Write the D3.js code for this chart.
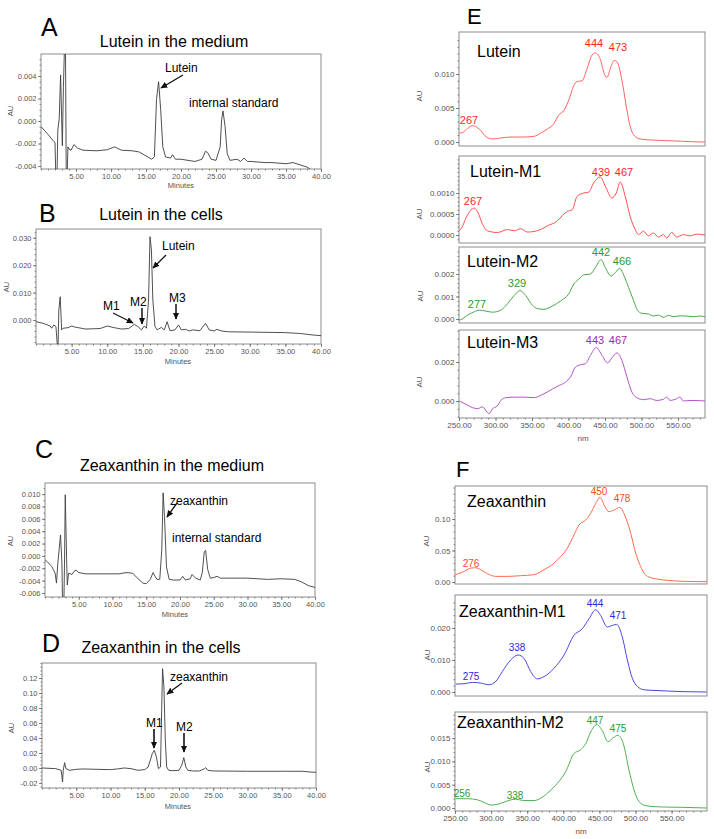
<!DOCTYPE html>
<html><head><meta charset="utf-8">
<script src="https://cdn.jsdelivr.net/npm/d3@7"></script>
<style>body{margin:0;background:#fff}svg text{font-family:"Liberation Sans",Arial,sans-serif}</style>
</head><body>
<svg id="c" width="714" height="839" xmlns="http://www.w3.org/2000/svg"></svg>
<script>
// ---------------- DATA ----------------
// Chromatograms: [minutes, AU]
const chromA = [[0,-0.0005],[1,-0.0012],[1.8,-0.0018],[2.0,-0.0019],[2.1,-0.0045],[2.3,-0.0045],[2.4,-0.0008],[2.6,0.0002],[2.8,0.0041],[2.95,0.0002],[3.05,-0.0022],[3.2,0.003],[3.35,0.0065],[3.5,0.0065],[3.6,-0.0045],[3.75,-0.0045],[3.85,-0.0023],[4.0,-0.0025],[4.3,-0.0026],[4.7,-0.0021],[5.2,-0.0024],[6,-0.0026],[8,-0.00265],[9.5,-0.00255],[10.5,-0.0023],[11.5,-0.0026],[13,-0.00265],[14,-0.00275],[15,-0.0031],[15.8,-0.0034],[16.2,-0.0032],[16.5,0.0019],[16.8,0.0035],[17.1,0.0010],[17.4,-0.0023],[17.8,-0.0032],[18.5,-0.0033],[18.8,-0.0030],[19.2,-0.0034],[20,-0.0034],[21,-0.0035],[22,-0.0036],[23,-0.0034],[23.5,-0.0027],[23.8,-0.0028],[24.3,-0.0034],[25,-0.0035],[25.6,-0.0023],[25.8,0.0001],[26.0,0.0009],[26.3,-0.0005],[26.6,-0.0029],[27,-0.0035],[28,-0.0034],[28.5,-0.0036],[29,-0.0033],[29.5,-0.0036],[30,-0.0036],[32,-0.0037],[33,-0.0037],[35,-0.0038],[36,-0.0037],[37,-0.0039],[38,-0.0041],[38.5,-0.0043]];
const chromB = [[0,-0.0006],[1,-0.0012],[2,-0.0022],[2.2,-0.0030],[2.5,-0.0018],[2.8,-0.0024],[3.0,-0.0095],[3.1,-0.0095],[3.2,0.0036],[3.4,0.0085],[3.6,-0.0036],[3.8,-0.0030],[4.5,-0.0028],[5,-0.0022],[5.5,-0.0026],[7,-0.0033],[9,-0.0031],[10,-0.0022],[11,-0.0028],[12,-0.0033],[13,-0.0031],[13.8,-0.0016],[14.3,-0.0024],[14.8,-0.0036],[15.2,-0.0022],[15.5,-0.0030],[15.8,0.0073],[16.0,0.0304],[16.2,0.0255],[16.4,0.0073],[16.7,-0.0024],[17,-0.0036],[17.6,-0.0027],[18,-0.0036],[18.4,-0.0006],[18.8,-0.0039],[19.5,-0.0036],[20,-0.0018],[20.4,-0.0036],[21,-0.0034],[21.5,-0.0040],[22,-0.0036],[23,-0.0039],[23.8,-0.0012],[24.3,-0.0036],[25,-0.0040],[25.4,-0.0034],[26,-0.0040],[27,-0.0043],[30,-0.0044],[35,-0.0046],[37,-0.0049],[38,-0.0052],[39,-0.0055],[40,-0.0057]];
const chromC = [[0,-0.0006],[1,-0.0017],[1.5,-0.0028],[1.7,-0.0044],[1.9,-0.0012],[2.3,0.0034],[2.5,-0.0010],[2.6,-0.0075],[2.8,-0.0075],[2.9,-0.0005],[3.0,0.0099],[3.2,-0.0004],[3.3,-0.0047],[3.5,-0.0028],[4.0,-0.0030],[4.3,-0.0025],[4.6,-0.0023],[5,-0.0027],[6,-0.0029],[8,-0.0029],[11,-0.0029],[12,-0.0027],[13,-0.0028],[13.5,-0.0034],[14.5,-0.0044],[15,-0.0045],[15.6,-0.0038],[16.0,-0.0027],[16.3,-0.0033],[16.6,-0.0038],[17.0,-0.0038],[17.3,0.0010],[17.5,0.0102],[17.7,0.0064],[18.0,-0.0018],[18.4,-0.0038],[19,-0.0039],[20,-0.0039],[20.4,-0.0033],[20.8,-0.0039],[21.5,-0.0037],[21.8,-0.0030],[22.3,-0.0036],[23,-0.0039],[23.3,-0.0027],[23.6,0.0007],[23.8,0.0009],[24.1,-0.0022],[24.5,-0.0036],[25,-0.0035],[25.5,-0.0033],[26,-0.0036],[27,-0.0036],[30,-0.0036],[33,-0.0038],[35,-0.0037],[37,-0.0038],[38,-0.0042],[39,-0.0048],[40,-0.0051]];
const chromD = [[0,0.0],[2,-0.0009],[2.8,-0.0031],[3.0,-0.0187],[3.1,-0.0031],[3.3,0.0071],[3.5,-0.0009],[4,-0.0031],[5,-0.0018],[6,-0.0013],[8,-0.0018],[10,-0.0022],[11,-0.0013],[12,0.0],[13,-0.0009],[14,-0.0031],[15,-0.0022],[15.5,0.0013],[16.1,0.0191],[16.4,0.0236],[16.7,0.0147],[17.0,-0.0009],[17.3,0.0013],[17.5,0.0902],[17.6,0.1324],[17.8,0.108],[18,0.037],[18.2,0.0013],[18.5,-0.0031],[19,-0.0036],[20,-0.0031],[20.4,0.0036],[20.7,0.0138],[21,0.0013],[21.3,-0.0031],[22,-0.0040],[23,-0.0040],[23.7,-0.0009],[23.9,0.0004],[24.2,-0.0031],[25,-0.0040],[30,-0.0044],[35,-0.0044],[38,-0.0044],[39,-0.0053],[40,-0.0058]];

// Spectra: [nm, AU]
const specLutein = [[250,0.0013],[255,0.0014],[261.8,0.0020],[268.6,0.0024],[277.7,0.0019],[286.8,0.0008],[295.9,0.00044],[307.3,0.00059],[320.9,0.00073],[339,0.00073],[352.7,0.00083],[361.8,0.0013],[370.9,0.0019],[380,0.0027],[386.8,0.0040],[393.6,0.0046],[400.5,0.0062],[407.3,0.0083],[411.8,0.0089],[418.6,0.0090],[425.5,0.0108],[432.3,0.0128],[436.8,0.0131],[442.7,0.0124],[450.5,0.0097],[452.7,0.0095],[458.2,0.0111],[462.7,0.0120],[466.4,0.0118],[473.2,0.0091],[480,0.0047],[484.5,0.0023],[489,0.0011],[498,0.00044],[511.8,0.0003],[534.5,0.0002],[557.3,0.0001],[582.3,0.0],[587,0.0]];
const specLuteinM1 = [[250,0.0001],[253.6,0.00017],[259.5,0.0004],[266.4,0.0006],[270.9,0.00064],[276.4,0.00052],[282.3,0.00025],[289,0.0001],[302.7,0.00006],[316.4,0.00013],[325.5,0.0001],[334.5,0.00015],[343.6,0.00007],[361.8,0.00013],[370.9,0.00022],[384.5,0.00033],[392,0.00047],[398.2,0.00056],[405,0.0006],[411.8,0.00092],[420.9,0.0010],[427.7,0.00102],[434.5,0.00124],[443.6,0.00138],[450.5,0.00116],[459.5,0.00088],[465.5,0.0010],[470.9,0.00126],[477.7,0.00092],[484.5,0.00044],[491.4,0.00013],[495.9,0.00001],[502.7,0.00009],[509.5,-0.00002],[516.4,0.00005],[523.2,-0.00005],[530,0.00001],[534.5,-0.00007],[541.4,0.00006],[548.2,-0.00005],[557.3,0.00001],[566.4,-0.00002],[575.5,0.00002],[587,0.0]];
const specLuteinM2 = [[250,-0.00005],[251.8,-0.00004],[261.8,0.00017],[270.9,0.00032],[277.7,0.00039],[286.8,0.00035],[295.9,0.0003],[307.3,0.00039],[316.4,0.00068],[325.5,0.00104],[333.6,0.00126],[341.4,0.00104],[350.5,0.00061],[357.3,0.00046],[366.4,0.00043],[377.7,0.00057],[389.1,0.0008],[400.5,0.00112],[407.3,0.00155],[414.1,0.00177],[420.9,0.00196],[430,0.0020],[436.8,0.00228],[444.5,0.00264],[450.5,0.00228],[458.2,0.00191],[464.1,0.00206],[470,0.00225],[476.4,0.0019],[482.3,0.0014],[489,0.00083],[494.5,0.00039],[500.5,0.00025],[509.5,0.00022],[516.4,0.00013],[523.2,0.00017],[530,0.00007],[536.8,0.00016],[543.6,0.0001],[552.7,0.00014],[561.8,0.00013],[570.9,0.0001],[580,0.00013],[587,0.0001]];
const specLuteinM3 = [[250.5,0.0],[259.5,-0.00017],[268.6,-0.00034],[275.5,-0.00039],[282.3,-0.0003],[288.2,-0.00056],[291.4,-0.00065],[295.9,-0.0004],[300.5,-0.0003],[303.6,-0.0002],[307.3,0.00003],[314.1,0.00017],[325.5,0.0002],[339.1,0.0002],[352.7,0.00017],[361.8,0.00029],[370.9,0.00046],[384.5,0.00075],[395.9,0.00097],[402.7,0.00123],[409.5,0.00174],[416.4,0.00186],[423.2,0.00191],[430,0.00234],[438.2,0.00274],[445.9,0.00234],[453.6,0.00195],[459.5,0.00222],[466.4,0.00246],[473.2,0.00208],[480,0.00123],[486.8,0.00046],[493.6,0.00017],[502.7,0.00007],[511.8,0.00012],[520.9,0.00003],[530,0.00009],[534.5,0.0002],[539.1,0.00003],[548.2,0.00012],[552.7,0.0002],[557.3,0.0],[566.4,0.00003],[580,0.00002],[587,0.0]];
const specZea = [[250,0.011],[250.9,0.0116],[260.2,0.0153],[271.7,0.022],[278.7,0.0226],[285.6,0.0195],[294.8,0.0132],[306.4,0.0089],[322.5,0.0089],[341,0.010],[359.4,0.0116],[373.3,0.0195],[387.1,0.030],[391.7,0.0353],[405.6,0.0537],[414.8,0.0747],[421.7,0.0905],[431,0.0984],[437.9,0.109],[444.8,0.1247],[450.8,0.1342],[457.3,0.1205],[463.3,0.1116],[470.2,0.1142],[478,0.1184],[485,0.1063],[493.3,0.0774],[500.2,0.0458],[507.1,0.0247],[511.7,0.0142],[518.6,0.0079],[530.2,0.0047],[544,0.0026],[567.1,0.001],[590.2,0.0005],[598.5,0.0005]];
const specZeaM1 = [[250.9,0.00247],[262.5,0.00258],[274,0.0030],[285.6,0.0028],[297.1,0.00227],[306.4,0.0033],[315.6,0.0064],[327.1,0.0100],[337.3,0.01155],[345.6,0.0105],[354.8,0.0064],[364,0.0041],[373.3,0.0048],[387.1,0.0074],[401,0.01155],[414.8,0.0177],[426.4,0.0198],[435.6,0.0229],[444.8,0.0257],[451.7,0.0239],[461,0.0203],[467.9,0.0208],[473.9,0.0211],[481.7,0.0172],[488.7,0.0100],[495.6,0.0043],[502.5,0.00175],[511.7,0.0007],[525.6,0.0005],[544,0.0003],[567.1,0.0001],[598.5,0.0]];
const specZeaM2 = [[250.9,0.0020],[267.1,0.0020],[281,0.00177],[290.2,0.0012],[299.4,0.00064],[308.7,0.00078],[320.2,0.0014],[334,0.0019],[345.6,0.0016],[359.4,0.0016],[368.7,0.0021],[380.2,0.0035],[391.7,0.0053],[403.3,0.0078],[414.8,0.0117],[424,0.0125],[431,0.0138],[437.9,0.0163],[446.2,0.0179],[454,0.0166],[461.9,0.0142],[469.3,0.0151],[475.7,0.0156],[483.1,0.0138],[491,0.0081],[497.9,0.0039],[504.8,0.0014],[514,0.0005],[525.6,0.0003],[544,0.0002],[567.1,0.00014],[598.5,0.0]];

// Tick values
const minuteTicks = [5,10,15,20,25,30,35,40];
const nmTicks = [250,300,350,400,450,500,550];
const yTicksA = [-0.004,-0.002,0.000,0.002,0.004];
const yTicksB = [0.000,0.010,0.020,0.030];
const yTicksC = [-0.006,-0.004,-0.002,0.000,0.002,0.004,0.006,0.008,0.010];
const yTicksD = [-0.02,0.00,0.02,0.04,0.06,0.08,0.10,0.12];
const yTicksLut = [0.000,0.005,0.010];
const yTicksLutM1 = [0.0000,0.0005,0.0010];
const yTicksLutM2 = [0.000,0.001,0.002];
const yTicksLutM3 = [0.000,0.002];
const yTicksZea = [0.00,0.05,0.10];
const yTicksZeaM1 = [0.000,0.010,0.020];
const yTicksZeaM2 = [0.000,0.005,0.010,0.015];

// Peak labels (text)
const peaksLut = ["267","444","473"];
const peaksLutM1 = ["267","439","467"];
const peaksLutM2 = ["277","329","442","466"];
const peaksLutM3 = ["443","467"];
const peaksZea = ["276","450","478"];
const peaksZeaM1 = ["275","338","444","471"];
const peaksZeaM2 = ["256","338","447","475"];

// ---------------- DRAW ----------------
const svg = d3.select("#c");
const defs = svg.append("defs");
defs.append("marker").attr("id","arr").attr("viewBox","0 0 10 10").attr("refX",9).attr("refY",5)
  .attr("markerWidth",7).attr("markerHeight",7).attr("markerUnits","userSpaceOnUse").attr("orient","auto")
  .append("path").attr("d","M0,0.5 L10,5 L0,9.5 z").attr("fill","#111");

let clipN = 0;
const fmt = n => v => (Math.abs(v) < 1e-12 ? 0 : v).toFixed(n);

function styleAxis(sel, fs, col) {
  sel.select(".domain").remove();
  sel.selectAll(".tick line").attr("stroke","#666").attr("stroke-width",0.8);
  sel.selectAll(".tick text").attr("fill",col||"#555").style("font-size",fs+"px");
}

function panel(o) {
  const x = d3.scaleLinear().domain(o.xd).range([o.l, o.r]);
  const y = d3.scaleLinear().domain(o.yd).range([o.b, o.t]);
  const g = svg.append("g");
  const id = "clip" + (clipN++);
  defs.append("clipPath").attr("id", id).append("rect")
    .attr("x", o.l).attr("y", o.t).attr("width", o.r - o.l).attr("height", o.b - o.t);
  g.append("rect").attr("x", o.l).attr("y", o.t).attr("width", o.r - o.l).attr("height", o.b - o.t)
    .attr("fill","none").attr("stroke","#8c8c8c").attr("stroke-width",1);
  const line = d3.line().x(d => x(d[0])).y(d => y(d[1])).curve(o.curve || d3.curveLinear);
  g.append("path").datum(o.data).attr("d", line).attr("fill","none")
    .attr("stroke", o.color).attr("stroke-width", o.sw || 1).attr("stroke-linejoin","round")
    .attr("clip-path", `url(#${id})`);
  // y minor
  const ymin = d3.range(o.yd[0], o.yd[1], o.yminor).map(v => Math.round(v / o.yminor) * o.yminor)
    .filter(v => v >= o.yd[0] && v <= o.yd[1]);
  g.append("g").attr("transform", `translate(${o.l},0)`)
    .call(d3.axisLeft(y).tickValues(ymin).tickFormat("").tickSize(1.5))
    .call(s => styleAxis(s, 7));
  g.append("g").attr("transform", `translate(${o.l},0)`)
    .call(d3.axisLeft(y).tickValues(o.yt).tickFormat(fmt(o.yf)).tickSize(3).tickPadding(1.5))
    .call(s => styleAxis(s, o.fs));
  if (o.xt) {
    const xmin = d3.range(Math.ceil(o.xd[0] / o.xminor) * o.xminor, o.xd[1] + 1e-9, o.xminor);
    g.append("g").attr("transform", `translate(0,${o.b})`)
      .call(d3.axisBottom(x).tickValues(xmin).tickFormat("").tickSize(1.5))
      .call(s => styleAxis(s, 7));
    g.append("g").attr("transform", `translate(0,${o.b})`)
      .call(d3.axisBottom(x).tickValues(o.xt).tickFormat(fmt(2)).tickSize(3).tickPadding(1.5))
      .call(s => styleAxis(s, o.fs));
    g.append("text").attr("x", o.xlab[0]).attr("y", o.xlab[1]).attr("text-anchor","middle")
      .attr("fill","#555").style("font-size", o.fs + "px").text(o.xlabel);
  }
  g.append("text").attr("transform", `translate(${o.au[0]},${o.au[1]}) rotate(-90)`)
    .attr("text-anchor","middle").attr("fill","#555").style("font-size", o.fs + "px").text("AU");
  if (o.name) g.append("text").attr("x", o.name[0]).attr("y", o.name[1]).attr("fill","#000")
    .style("font-size","16px").text(o.name[2]);
  if (o.peaks) o.peaks.forEach((t, i) => {
    g.append("text").attr("x", o.peakPos[i][0]).attr("y", o.peakPos[i][1]).attr("text-anchor","middle")
      .attr("fill", o.pcolor).style("font-size", (o.pfs || 11) + "px").text(t);
  });
  return {x, y};
}

function txt(x, y, s, size, anchor) {
  svg.append("text").attr("x", x).attr("y", y).attr("text-anchor", anchor || "start")
    .attr("fill","#000").style("font-size", size + "px").text(s);
}
function arrow(x1, y1, x2, y2, w) {
  svg.append("line").attr("x1", x1).attr("y1", y1).attr("x2", x2).attr("y2", y2)
    .attr("stroke","#111").attr("stroke-width", w || 1.3).attr("marker-end","url(#arr)");
}

const CH = "#3c3c3c";
// ---- A ----
txt(41, 36, "A", 25);
txt(174, 47, "Lutein in the medium", 16, "middle");
panel({l:41, r:321, t:54, b:169, xd:[0,40], yd:[-0.00427,0.00596], data:chromA, color:CH, sw:0.9,
  yt:yTicksA, yf:3, yminor:0.0005, xt:minuteTicks, xminor:1, fs:7.5, xlabel:"Minutes", xlab:[181,188], au:[13,111]});
txt(165, 72, "Lutein", 12);
arrow(183, 75, 161, 88);
txt(189, 107, "internal standard", 12);

// ---- B ----
txt(39, 222, "B", 25);
txt(161, 220, "Lutein in the cells", 16, "middle");
panel({l:36, r:321, t:229, b:344, xd:[0,40], yd:[-0.00875,0.0332], data:chromB, color:CH, sw:0.9,
  yt:yTicksB, yf:3, yminor:0.002, xt:minuteTicks, xminor:1, fs:7.5, xlabel:"Minutes", xlab:[178,364], au:[9,287]});
txt(162, 250, "Lutein", 12);
arrow(166, 255, 153, 268);
txt(103, 310, "M1", 12);
arrow(113, 313, 133, 323, 1.2);
txt(130, 306, "M2", 12);
arrow(142, 308, 142, 324, 1.5);
txt(169, 302, "M3", 12);
arrow(176, 304, 176, 319, 1.5);

// ---- C ----
txt(35, 458, "C", 25);
txt(172, 471, "Zeaxanthin in the medium", 16, "middle");
panel({l:45, r:315, t:483, b:597, xd:[0,40], yd:[-0.00665,0.0118], data:chromC, color:CH, sw:0.9,
  yt:yTicksC, yf:3, yminor:0.001, xt:minuteTicks, xminor:1, fs:7.5, xlabel:"Minutes", xlab:[175,617], au:[13,541]});
txt(170, 505, "zeaxanthin", 12);
arrow(177, 503, 167, 517);
txt(172, 542, "internal standard", 12);

// ---- D ----
txt(42, 652, "D", 25);
txt(161, 653, "Zeaxanthin in the cells", 16, "middle");
panel({l:42, r:316, t:663, b:788, xd:[0,40], yd:[-0.0267,0.14], data:chromD, color:CH, sw:0.9,
  yt:yTicksD, yf:2, yminor:0.005, xt:minuteTicks, xminor:1, fs:7.5, xlabel:"Minutes", xlab:[178,809], au:[14,728]});
txt(170, 681, "zeaxanthin", 12);
arrow(182, 683, 167, 694);
txt(146, 727, "M1", 12);
arrow(154, 729, 154, 748, 1.6);
txt(176, 731, "M2", 12);
arrow(184, 733, 184, 752, 1.6);

// ---- E ----
txt(467, 24, "E", 22);
const EX = {l:459, r:705, xd:[250,587], fs:8, curve:d3.curveMonotoneX};
panel({...EX, t:32, b:146, yd:[-0.00059,0.01618], data:specLutein, color:"#ff6464",
  yt:yTicksLut, yf:3, yminor:0.001, au:[422,96], name:[477,57,"Lutein"],
  peaks:peaksLut, peakPos:[[469,124],[594,47],[618,51]], pcolor:"#ff1e1e"});
panel({...EX, t:156, b:243, yd:[-0.00019,0.00188], data:specLuteinM1, color:"#ff5050",
  yt:yTicksLutM1, yf:4, yminor:0.0001, au:[422,214], name:[470,177,"Lutein-M1"],
  peaks:peaksLutM1, peakPos:[[473,205],[601,176],[624,176]], pcolor:"#ff1e1e"});
panel({...EX, t:247, b:323, yd:[-0.00018,0.0032], data:specLuteinM2, color:"#48a848",
  yt:yTicksLutM2, yf:3, yminor:0.0002, au:[423,296], name:[467,267,"Lutein-M2"],
  peaks:peaksLutM2, peakPos:[[477,308],[517,287],[601,256],[622,265]], pcolor:"#2c9a2c"});
panel({...EX, t:330, b:418, yd:[-0.00087,0.00364], data:specLuteinM3, color:"#b455c8",
  yt:yTicksLutM3, yf:3, yminor:0.0004, au:[422,382], name:[467,348,"Lutein-M3"],
  peaks:peaksLutM3, peakPos:[[595,344],[618,344]], pcolor:"#a02aa6",
  xt:nmTicks, xminor:10, xlabel:"nm", xlab:[583,441]});

// ---- F ----
txt(456, 477, "F", 22);
const FX = {l:455, r:707, xd:[250,599], fs:8, curve:d3.curveMonotoneX, pfs:10};
panel({...FX, t:486, b:584, yd:[-0.0032,0.1524], data:specZea, color:"#ff6a50",
  yt:yTicksZea, yf:2, yminor:0.01, au:[429,541], name:[467,507,"Zeaxanthin"],
  peaks:peaksZea, peakPos:[[471,567],[599,495],[622,502]], pcolor:"#ff4a22"});
panel({...FX, t:595, b:696, yd:[-0.00125,0.0303], data:specZeaM1, color:"#4848e0",
  yt:yTicksZeaM1, yf:3, yminor:0.002, au:[430,655], name:[459,617,"Zeaxanthin-M1"],
  peaks:peaksZeaM1, peakPos:[[471,680],[517,651],[595,607],[618,619]], pcolor:"#2a2ad8"});
panel({...FX, t:712, b:811, yd:[-0.00064,0.0206], data:specZeaM2, color:"#50b050",
  yt:yTicksZeaM2, yf:3, yminor:0.001, au:[430,767], name:[457,728,"Zeaxanthin-M2"],
  peaks:peaksZeaM2, peakPos:[[462,797],[515,799],[595,724],[618,732]], pcolor:"#2c9a2c",
  xt:nmTicks, xminor:10, xlabel:"nm", xlab:[581,834]});
</script>
</body></html>
